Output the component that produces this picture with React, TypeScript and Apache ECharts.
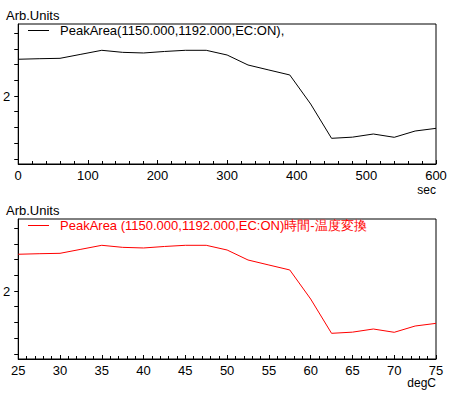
import React, { useEffect, useRef } from "react";
import * as echarts from "echarts";

const timeSec = [0, 30, 60, 90, 120, 150, 180, 210, 240, 270, 300, 330, 360, 390, 420, 450, 480, 510, 540, 570, 600];
const tempDegC = [25, 27.5, 30, 32.5, 35, 37.5, 40, 42.5, 45, 47.5, 50, 52.5, 55, 57.5, 60, 62.5, 65, 67.5, 70, 72.5, 75];
const peakArea = [2.468, 2.475, 2.48, 2.531, 2.582, 2.556, 2.548, 2.567, 2.582, 2.582, 2.522, 2.395, 2.331, 2.268, 1.898, 1.461, 1.476, 1.516, 1.474, 1.554, 1.588];
const yTickValues = [1.2, 1.4, 1.6, 1.8, 2.0, 2.2, 2.4, 2.6, 2.8];
const yLabelValues = [2];
const topSeriesName = "PeakArea(1150.000,1192.000,EC:ON),";
const bottomSeriesName = "PeakArea (1150.000,1192.000,EC:ON)時間-温度変換";

const FONT = "'Liberation Sans', Arial, sans-serif";
const LINE_ICON = "path://M0,0 L21,0 L21,1 L0,1 Z";

export default function App() {
  const ref = useRef<HTMLDivElement>(null);
  useEffect(() => {
    if (!ref.current) return;
    const chart = echarts.init(ref.current, null, { renderer: "svg" });
    const grids = [
      { left: 17, top: 24, width: 419, height: 140 },
      { left: 17, top: 219, width: 419, height: 140 },
    ];
    const yAxisBase = (gi: number) => ({
      type: "value",
      gridIndex: gi,
      min: 1.134,
      max: 2.917,
      axisLine: { show: true, lineStyle: { color: "#000", width: 1 } },
      axisTick: { show: true, customValues: yTickValues, length: 4, lineStyle: { color: "#000" } },
      axisLabel: { show: true, customValues: yLabelValues, color: "#000", fontSize: 13, fontFamily: FONT, margin: 8 },
      splitLine: { show: false },
    });
    const xAxisCommon = {
      type: "value",
      axisLine: { show: true, onZero: false, lineStyle: { color: "#000", width: 1 } },
      axisTick: { show: true, length: 4, inside: true, lineStyle: { color: "#000" } },
      minorTick: { show: true, splitNumber: 5, length: 3, lineStyle: { color: "#000" } },
      axisLabel: { color: "#000", fontSize: 13, fontFamily: FONT, margin: 5 },
      splitLine: { show: false },
    };
    const legendCommon = {
      left: 28,
      padding: 0,
      icon: LINE_ICON,
      itemWidth: 21,
      itemHeight: 1,
      itemGap: 0,
    };
    chart.setOption({
      animation: false,
      backgroundColor: "#fff",
      textStyle: { fontFamily: FONT },
      grid: grids.map((g) => ({ ...g, show: true, borderColor: "#000", borderWidth: 1, backgroundColor: "transparent" })),
      xAxis: [
        { ...xAxisCommon, gridIndex: 0, min: 0, max: 600, interval: 100 },
        { ...xAxisCommon, gridIndex: 1, min: 25, max: 75, interval: 5 },
      ],
      yAxis: [yAxisBase(0), yAxisBase(1)],
      legend: [
        {
          ...legendCommon,
          data: [topSeriesName],
          top: 24,
          textStyle: { color: "#000", fontSize: 13, fontFamily: FONT, padding: [0, 0, 0, 6] },
        },
        {
          ...legendCommon,
          data: [bottomSeriesName],
          top: 219,
          textStyle: { color: "#f00", fontSize: 13, fontFamily: FONT, padding: [0, 0, 0, 6] },
        },
      ],
      series: [
        {
          name: topSeriesName,
          type: "line",
          xAxisIndex: 0,
          yAxisIndex: 0,
          symbol: "none",
          lineStyle: { color: "#000", width: 1 },
          itemStyle: { color: "#000" },
          data: timeSec.map((t, i) => [t, peakArea[i]]),
        },
        {
          name: bottomSeriesName,
          type: "line",
          xAxisIndex: 1,
          yAxisIndex: 1,
          symbol: "none",
          lineStyle: { color: "#f00", width: 1 },
          itemStyle: { color: "#f00" },
          data: tempDegC.map((t, i) => [t, peakArea[i]]),
        },
      ],
      graphic: [
        { type: "text", left: 6, top: 9, style: { text: "Arb.Units", fontSize: 13, fontFamily: FONT, fill: "#000" } },
        { type: "text", left: 6, top: 204, style: { text: "Arb.Units", fontSize: 13, fontFamily: FONT, fill: "#000" } },
        { type: "text", right: 14, top: 184, style: { text: "sec", fontSize: 12, fontFamily: FONT, fill: "#000" } },
        { type: "text", right: 14, top: 377, style: { text: "degC", fontSize: 12, fontFamily: FONT, fill: "#000" } },
      ],
    });
    return () => chart.dispose();
  }, []);
  return (
    <div
      ref={ref}
      style={{ position: "fixed", left: 0, top: 0, width: 450, height: 399, background: "#fff" }}
    />
  );
}
